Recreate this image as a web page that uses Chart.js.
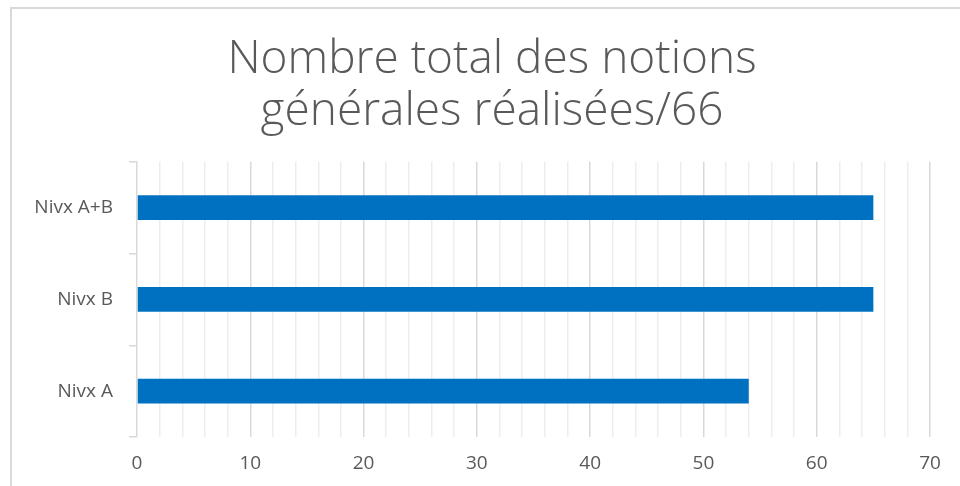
<!DOCTYPE html>
<html>
<head>
<meta charset="utf-8">
<script src="https://cdn.jsdelivr.net/npm/chart.js@4/dist/chart.umd.min.js"></script>
<style>
  html, body { margin: 0; padding: 0; background: #fff; }
  #wrap { position: relative; width: 960px; height: 486px; overflow: hidden; }
  #frame { position: absolute; left: 10px; top: 7px; width: 980px; height: 500px;
           border-left: 2px solid #d9d9d9; border-top: 2px solid #d9d9d9; }
  canvas { position: absolute; left: 0; top: 0; }
</style>
</head>
<body>
<div id="wrap">
  <div id="frame"></div>
  <canvas id="graf" width="960" height="486"></canvas>
</div>
<script>
// niveaux (de haut en bas)
var niveaux = ['Nivx A+B', 'Nivx B', 'Nivx A'];
var notions = [65, 65, 54];
var titre = ['Nombre total des notions', 'générales réalisées/66'];
var maxX = 70;

var gris = '#595959';

// le titre est centré un peu à droite (comme dans Excel)
var decaleTitre = {
    id: 'decaleTitre',
    afterLayout: function (chart) {
        if (chart.titleBlock) chart.titleBlock.left = 54;
    }
};

var ctx = document.getElementById('graf');
var graf = new Chart(ctx, {
    type: 'bar',
    data: {
        labels: niveaux,
        datasets: [{
            label: 'Notions',
            data: notions,
            backgroundColor: '#0070C0',
            borderWidth: 0,
            barPercentage: 0.27,
            categoryPercentage: 1
        }]
    },
    plugins: [decaleTitre],
    options: {
        indexAxis: 'y',
        responsive: false,
        animation: false,
        layout: { padding: { left: 10, right: 30, top: 0, bottom: 0 } },
        plugins: {
            legend: { display: false },
            tooltip: { enabled: false },
            title: {
                display: true,
                text: titre,
                color: gris,
                font: { family: "'Open Sans'", size: 46, weight: '300', lineHeight: 1.15 },
                padding: { top: 33, bottom: 23 }
            }
        },
        scales: {
            x: {
                min: 0,
                max: maxX,
                ticks: {
                    stepSize: 2,
                    autoSkip: false,
                    maxRotation: 0,
                    color: gris,
                    font: { family: "'Open Sans'", size: 19 },
                    padding: 15,
                    callback: function (v) { return v % 10 === 0 ? v : ''; }
                },
                grid: {
                    drawTicks: false,
                    color: function (c) {
                        if (c.tick && c.tick.value === 0) return 'rgba(0,0,0,0)';
                        return c.tick && c.tick.value % 10 === 0 ? '#d9d9d9' : '#ededed';
                    },
                    lineWidth: 1.5
                },
                border: { display: false },
                afterFit: function (s) { s.height = 49; }
            },
            y: {
                ticks: {
                    color: gris,
                    font: { family: "'Open Sans'", size: 19 },
                    padding: 16
                },
                grid: {
                    offset: true,
                    drawOnChartArea: false,
                    drawTicks: true,
                    tickLength: 8,
                    color: '#d9d9d9',
                    lineWidth: 1.5
                },
                border: { display: true, color: '#d9d9d9', width: 1.5 },
                afterFit: function (s) { s.width = 127; }
            }
        }
    }
});
</script>
</body>
</html>
